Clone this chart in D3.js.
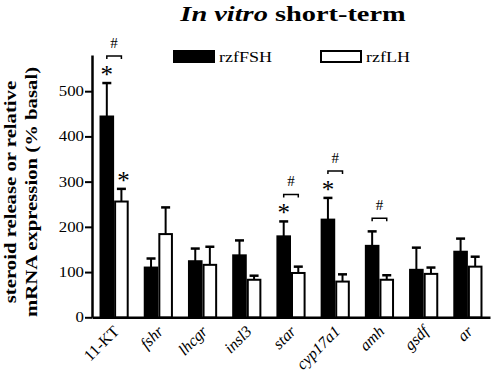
<!DOCTYPE html>
<html>
<head>
<meta charset="utf-8">
<script src="https://cdn.jsdelivr.net/npm/d3@7"></script>
<style>
body { margin: 0; background: #fff; }
text { font-family: "Liberation Serif", "Times New Roman", serif; }
</style>
</head>
<body>
<div id="chart"></div>
<script>
// data
const genes = ["11-KT", "fshr", "lhcgr", "insl3", "star", "cyp17a1", "amh", "gsdf", "ar"]
const fsh_mean = [444, 110, 124, 137, 179, 216, 158, 105, 145]
const fsh_err = [74, 20, 28, 33, 33, 48, 32, 49, 29]
const lh_mean = [256, 184, 116, 83, 98, 79, 83, 96, 112]
const lh_err = [28, 59, 40, 9, 14, 16, 10, 14, 22]
const fsh_star = [1, 0, 0, 0, 1, 1, 0, 0, 0]
const lh_star = [1, 0, 0, 0, 0, 0, 0, 0, 0]
const hash_pair = [1, 0, 0, 0, 1, 1, 1, 0, 0]
const y_ticks = [0, 100, 200, 300, 400, 500]
const series = ["rzfFSH", "rzfLH"]

// layout
const width = 492
const height = 373
const x0 = 92, x1 = 490
const y0 = 317.3, yTop = 55
const stretch = 1.2   // the figure's text is a bit wide

const svg = d3.select("#chart").append("svg")
    .attr("width", width)
    .attr("height", height)

const x = d3.scaleBand().domain(genes).range([x0, x1]).paddingInner(0.34).paddingOuter(0.17)
const y = d3.scaleLinear().domain([0, 580]).range([y0, yTop])
const bw = x.bandwidth() / 2

// title
const title = svg.append("text")
    .attr("transform", "translate(293,21) scale(1.29,1)")
    .attr("text-anchor", "middle")
    .attr("font-size", 22).attr("font-weight", "bold")
title.append("tspan").attr("font-style", "italic").text("In vitro")
title.append("tspan").text(" short-term")

// legend
const legend = [[174, "#000"], [321, "#fff"]]
legend.forEach((d, i) => {
    svg.append("rect")
        .attr("x", d[0]).attr("y", 51).attr("width", 40).attr("height", 11)
        .attr("fill", d[1]).attr("stroke", "#000").attr("stroke-width", 2)
    svg.append("text")
        .attr("transform", "translate(" + (d[0] + 45) + ",62) scale(" + stretch + ",1)")
        .attr("font-size", 15).text(series[i])
})

// y axis label
const ylab = svg.append("text")
    .attr("transform", "translate(0,192) rotate(-90) scale(1.22,1)")
    .attr("text-anchor", "middle")
    .attr("font-size", 17).attr("font-weight", "bold")
ylab.append("tspan").attr("x", 0).attr("y", 16).text("steroid release or relative")
ylab.append("tspan").attr("x", 0).attr("y", 37).text("mRNA expression (% basal)")

// axes
const yAxis = svg.append("g")
    .attr("transform", "translate(" + x0 + ",0)")
    .call(d3.axisLeft(y).tickValues(y_ticks).tickSize(7).tickSizeOuter(0))
yAxis.select(".domain").attr("stroke-width", 2.5)
yAxis.selectAll(".tick line").attr("stroke-width", 2)
yAxis.selectAll(".tick text")
    .attr("font-size", 14).attr("font-family", "Liberation Serif")
    .attr("x", 0)
    .attr("transform", "translate(-8,0) scale(" + stretch + ",1)")

const xAxis = svg.append("g")
    .attr("transform", "translate(0," + y0 + ")")
    .call(d3.axisBottom(x).tickSize(0).tickSizeOuter(0))
xAxis.select(".domain").attr("stroke-width", 2.5)
xAxis.selectAll(".tick text")
    .attr("font-size", 16).attr("font-family", "Liberation Serif")
    .attr("font-style", d => d == "11-KT" ? "normal" : "italic")
    .attr("text-anchor", "end")
    .attr("transform", "translate(2,11) rotate(-45)")
    .attr("x", 0).attr("y", 0).attr("dy", "0.35em")

// bars + error bars
function draw_series(mean, err, off, fill){
    const g = svg.append("g")
    const cx = (d, i) => x(genes[i]) + off + bw / 2
    g.selectAll("line.err").data(mean).join("line")
        .attr("x1", cx).attr("x2", cx)
        .attr("y1", d => y(d)).attr("y2", (d, i) => y(d + err[i]))
        .attr("stroke", "#000").attr("stroke-width", 2)
    g.selectAll("line.cap").data(mean).join("line")
        .attr("x1", (d, i) => cx(d, i) - 4.5).attr("x2", (d, i) => cx(d, i) + 4.5)
        .attr("y1", (d, i) => y(d + err[i])).attr("y2", (d, i) => y(d + err[i]))
        .attr("stroke", "#000").attr("stroke-width", 2.5)
    g.selectAll("rect").data(mean).join("rect")
        .attr("x", (d, i) => x(genes[i]) + off + 1)
        .attr("y", d => y(d))
        .attr("width", bw - 2)
        .attr("height", d => y0 - y(d))
        .attr("fill", fill).attr("stroke", "#000").attr("stroke-width", 2)
}
draw_series(fsh_mean, fsh_err, 0, "#000")
draw_series(lh_mean, lh_err, bw, "#fff")

// significance marks
function star(cxv, cap){
    svg.append("text").attr("x", cxv).attr("y", cap)
        .attr("text-anchor", "middle").attr("font-size", 25).attr("fill", "#000").text("*")
}
genes.forEach((g, i) => {
    const c1 = x(g) + bw / 2, c2 = x(g) + bw * 1.5
    const t1 = y(fsh_mean[i] + fsh_err[i])
    if (fsh_star[i]) star(c1, t1)
    if (lh_star[i]) star(c2 + 2, y(lh_mean[i] + lh_err[i]))
    if (hash_pair[i]) {
        const by = t1 - (fsh_star[i] ? 27 : 13)
        svg.append("path")
            .attr("d", "M" + c1 + "," + (by + 3) + "V" + by + "H" + c2 + "V" + (by + 3))
            .attr("fill", "none").attr("stroke", "#000").attr("stroke-width", 1.5)
        svg.append("text").attr("x", (c1 + c2) / 2).attr("y", by - 8)
            .attr("text-anchor", "middle").attr("font-size", 15).text("#")
    }
})
</script>
</body>
</html>
